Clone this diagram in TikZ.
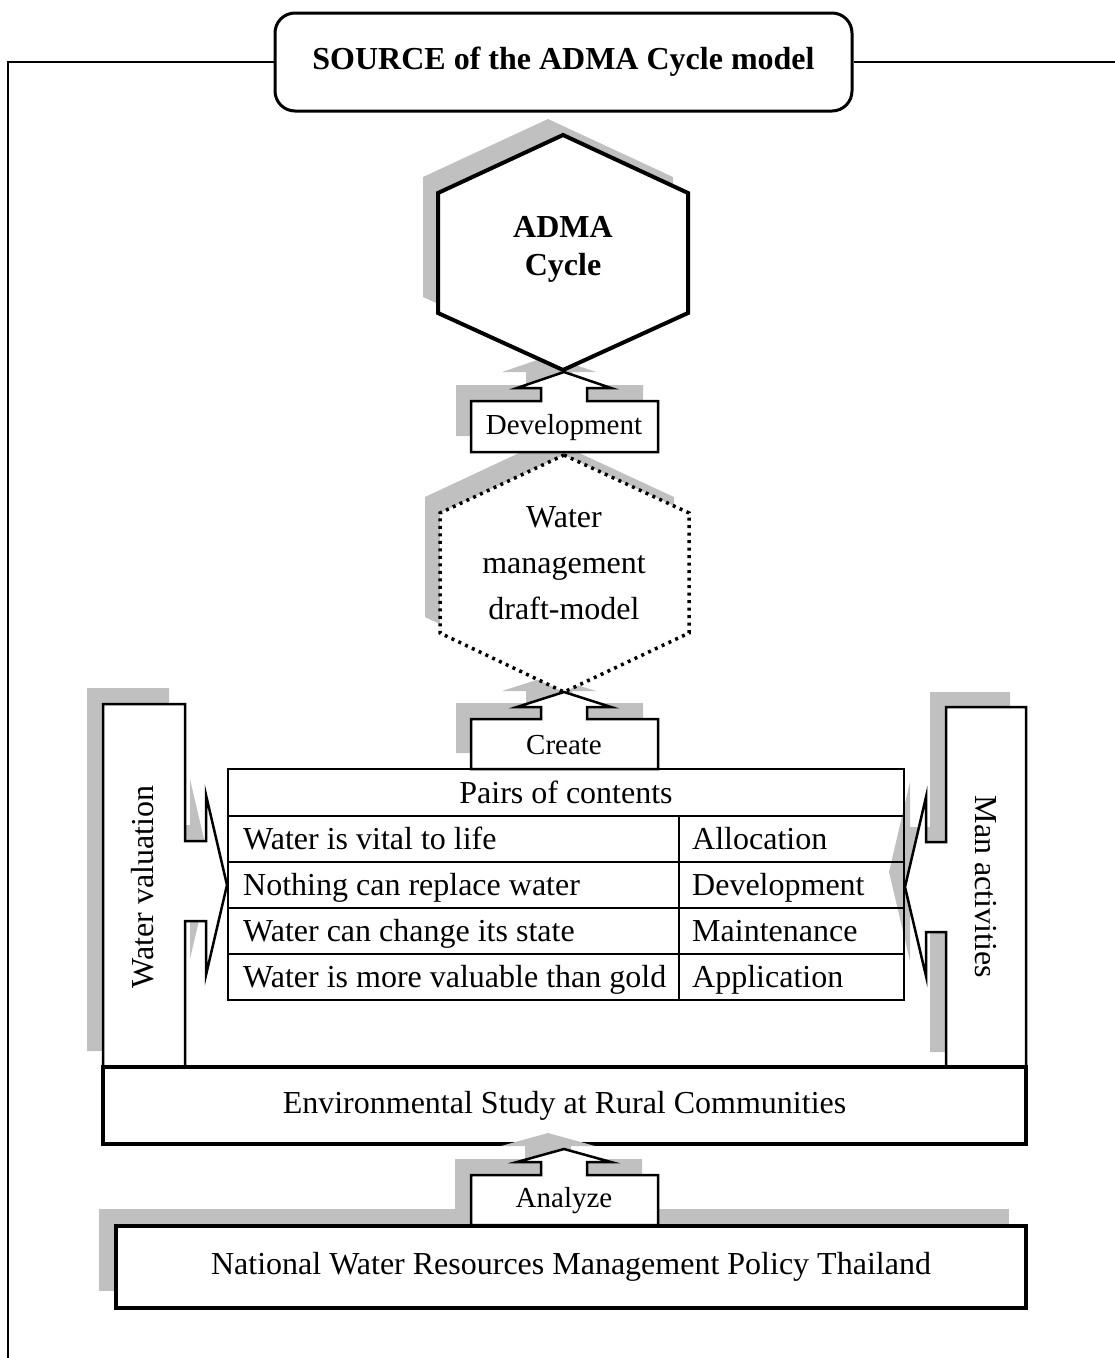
\documentclass[tikz,border=0pt]{standalone}
\usepackage{fontspec}
\setmainfont{Liberation Serif}

% outlines shared by each shape and its drop shadow
\newcommand\hexApath{(563,135) -- (688,193) -- (688,313) -- (563,370) -- (438,313) -- (438,193) -- cycle}
\newcommand\hexBpath{(564,455) -- (689,513) -- (689,633) -- (564,692) -- (440,633) -- (440,513) -- cycle}
% up-arrow callout: #1 tip, #2 head base, #3 box top, #4 box bottom
\newcommand\calloutpath[4]{(471,#4) -- (471,#3) -- (541,#3) -- (541,#2) -- (517,#2) -- (564,#1) -- (611,#2) -- (587,#2) -- (587,#3) -- (658,#3) -- (658,#4) -- cycle}
\newcommand\leftbarpath{(103,1067) -- (103,704) -- (185,704) -- (185,841) -- (206,841) -- (206,795) -- (227,885) -- (206,975) -- (206,921) -- (185,921) -- (185,1067) -- cycle}
\newcommand\rightbarpath{(1026,1067) -- (1026,707) -- (946,707) -- (946,842) -- (926,842) -- (926,797) -- (905,887) -- (926,976) -- (926,932) -- (946,932) -- (946,1067) -- cycle}

\definecolor{shadegray}{RGB}{192,192,192}

\tikzset{
  every node/.style={font=\fontsize{32}{38}\selectfont, inner sep=0pt},
  shade/.style={fill=shadegray, draw=none},
  solidshape/.style={draw=black, fill=white, line width=2.5pt, line join=miter},
  smalllabel/.style={font=\fontsize{29}{34}\selectfont},
  cell/.style={anchor=base west},
}

\begin{document}
\begin{tikzpicture}[x=1pt, y=-1pt]
\useasboundingbox (0,0) rectangle (1115,1358);

% heading and page frame
\node[draw, line width=3pt, rounded corners=20pt, minimum width=577pt, minimum height=98pt,
      font=\fontsize{32}{38}\selectfont\bfseries] (title) at (563.5,62) {SOURCE of the ADMA Cycle model};
\draw[line width=2.5pt] (8,1358) |- (title.west);
\draw[line width=2.5pt] (title.east) -- (1115,62);

% shadows of the upper column
\fill[shade, shift={(-15,-16)}] \hexApath;
\fill[shade, shift={(-15,-16)}] \hexBpath;
\fill[shade, shift={(-15,-16)}] \calloutpath{372}{388}{401}{452};

% ADMA cycle hexagon
\draw[solidshape, line width=4pt] \hexApath;
\node[font=\fontsize{32}{38}\selectfont\bfseries, align=center] (adma) at (563,249) {ADMA\\Cycle};

% Development arrow
\draw[solidshape] \calloutpath{372}{388}{401}{452};
\node[smalllabel] (dev) at (564,428) {Development};

% draft model hexagon
\fill[shade, shift={(-15,-16)}] \calloutpath{692}{707}{719}{769};
\draw[fill=white, line width=3.5pt, dash pattern=on 3pt off 4.5pt] \hexBpath;
\node[align=center, font=\fontsize{32}{46}\selectfont] (draft) at (564,563) {Water\\management\\draft-model};

% Create arrow
\draw[solidshape] \calloutpath{692}{707}{719}{769};
\node[smalllabel] (create) at (564,745) {Create};

% Water valuation bracket
\fill[shade, shift={(-16,-16)}] \leftbarpath;
\draw[solidshape] \leftbarpath;
\node[rotate=90] (valuation) at (143,887) {Water valuation};

% Man activities bracket shadow
\fill[shade, shift={(-16,-15)}] \rightbarpath;

% table of content pairs
\draw[line width=2.5pt] (228,769) rectangle (904,1000);
\foreach \yy in {816,862,908,954} \draw[line width=2.5pt] (228,\yy) -- (904,\yy);
\draw[line width=2.5pt] (679,816) -- (679,1000);
\node[anchor=base] (pairs) at (566,803) {Pairs of contents};
\node[cell] (l1) at (243,849) {Water is vital to life};
\node[cell] (l2) at (243,895) {Nothing can replace water};
\node[cell] (l3) at (243,941) {Water can change its state};
\node[cell] (l4) at (243,987) {Water is more valuable than gold};
\node[cell] (r1) at (692,849) {Allocation};
\node[cell] (r2) at (692,895) {Development};
\node[cell] (r3) at (692,941) {Maintenance};
\node[cell] (r4) at (692,987) {Application};

% Man activities bracket
\draw[solidshape] \rightbarpath;
\node[rotate=-90] (man) at (986,887) {Man activities};

% environmental study
\node[draw, fill=white, line width=4pt, minimum width=923pt, minimum height=77pt] (env) at (564.5,1105.5) {Environmental Study at Rural Communities};

% Analyze arrow and policy box
\fill[shade, shift={(-16,-16)}] \calloutpath{1149}{1162}{1175}{1225};
\fill[shade] (99,1209) rectangle (1009,1291);
\draw[solidshape] \calloutpath{1149}{1162}{1175}{1225};
\node[smalllabel] (analyze) at (564,1201) {Analyze};
\node[draw, fill=white, line width=4.5pt, minimum width=910pt, minimum height=82pt] (policy) at (571,1267) {National Water Resources Management Policy Thailand};
\end{tikzpicture}
\end{document}
